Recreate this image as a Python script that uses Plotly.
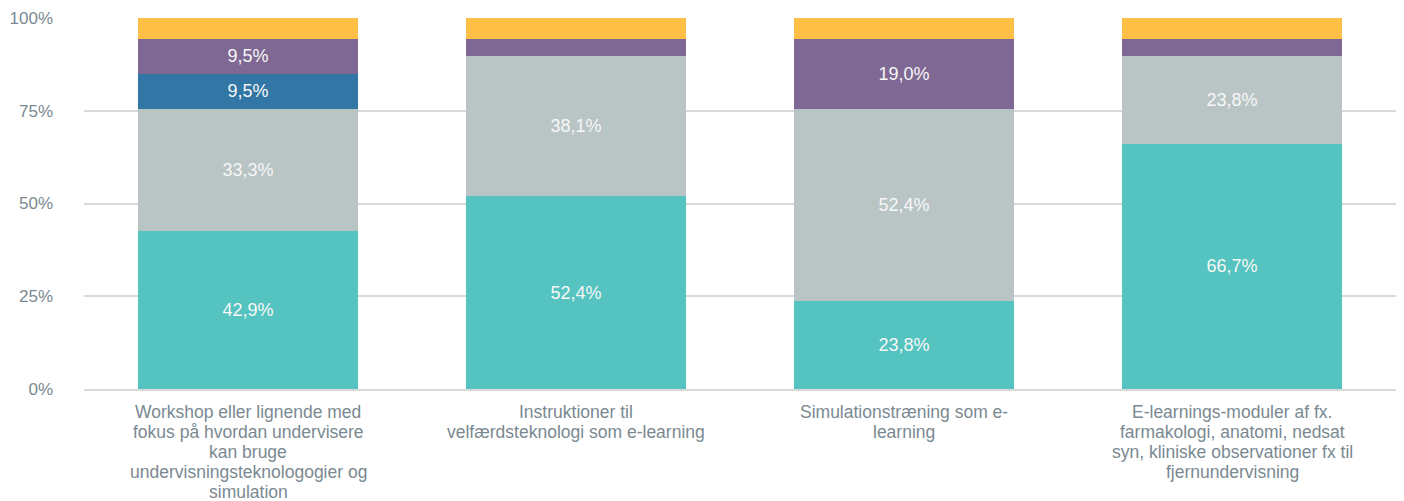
import plotly.graph_objects as go

categories = [
    "Workshop eller lignende med<br>fokus på hvordan undervisere<br>kan bruge<br>undervisningsteknologogier og<br>simulation",
    "Instruktioner til<br>velfærdsteknologi som e-learning",
    "Simulationstræning som e-<br>learning",
    "E-learnings-moduler af fx.<br>farmakologi, anatomi, nedsat<br>syn, kliniske observationer fx til<br>fjernundervisning",
]
series_names = ["Serie 1", "Serie 2", "Serie 3", "Serie 4", "Serie 5"]
teal = [42.9, 52.4, 23.8, 66.7]
grey = [33.3, 38.1, 52.4, 23.8]
blue = [9.5, 0.0, 0.0, 0.0]
purple = [9.5, 4.8, 19.0, 4.8]
yellow = [5.6, 5.6, 5.6, 5.6]
y_ticks = [0, 25, 50, 75, 100]
y_tick_labels = ["0%", "25%", "50%", "75%", "100%"]

colors = ["#55C3BF", "#B9C4C5", "#3276A5", "#7F6893", "#FDBF45"]
series = [teal, grey, blue, purple, yellow]
FONT = "Liberation Sans, Arial"
TXT = "#7A8991"

fig = go.Figure()
for name, vals, col in zip(series_names, series, colors):
    labels = [(f"{v:.1f}%".replace(".", ",") if v >= 9 else "") for v in vals]
    fig.add_trace(go.Bar(
        x=categories, y=vals, name=name, marker=dict(color=col, line=dict(width=0)),
        text=labels, textposition="inside", insidetextanchor="middle", textangle=0,
        textfont=dict(color="#F7F7F7", size=18, family=FONT),
    ))

# category labels as per-line annotations (tighter line spacing)
for cat in categories:
    for i, line in enumerate(cat.split("<br>")):
        fig.add_annotation(
            x=cat, xref="x", y=0, yref="paper", yanchor="middle",
            yshift=-(23 + 20 * i), text=line, showarrow=False,
            font=dict(size=17.5, color=TXT, family=FONT),
        )

fig.update_layout(
    barmode="stack", barnorm="percent", bargap=0.33, showlegend=False,
    width=1396, height=493,
    margin=dict(l=76, r=8, t=10, b=112, autoexpand=False),
    plot_bgcolor="white", paper_bgcolor="white",
    font=dict(family=FONT, size=17, color=TXT),
    uniformtext=dict(minsize=18, mode="show"),
)
fig.update_yaxes(
    range=[0, 100], tickvals=y_ticks, ticktext=y_tick_labels,
    showgrid=True, gridcolor="#D9D9D9", gridwidth=1.5, zeroline=False,
    showline=False, ticks="", ticklabelstandoff=30, automargin=False,
    tickfont=dict(size=17, color=TXT, family=FONT),
)
fig.update_xaxes(
    showline=True, linecolor="#D9D9D9", linewidth=1.5, ticks="",
    showticklabels=False, automargin=False,
)
fig.write_html("out.html")
